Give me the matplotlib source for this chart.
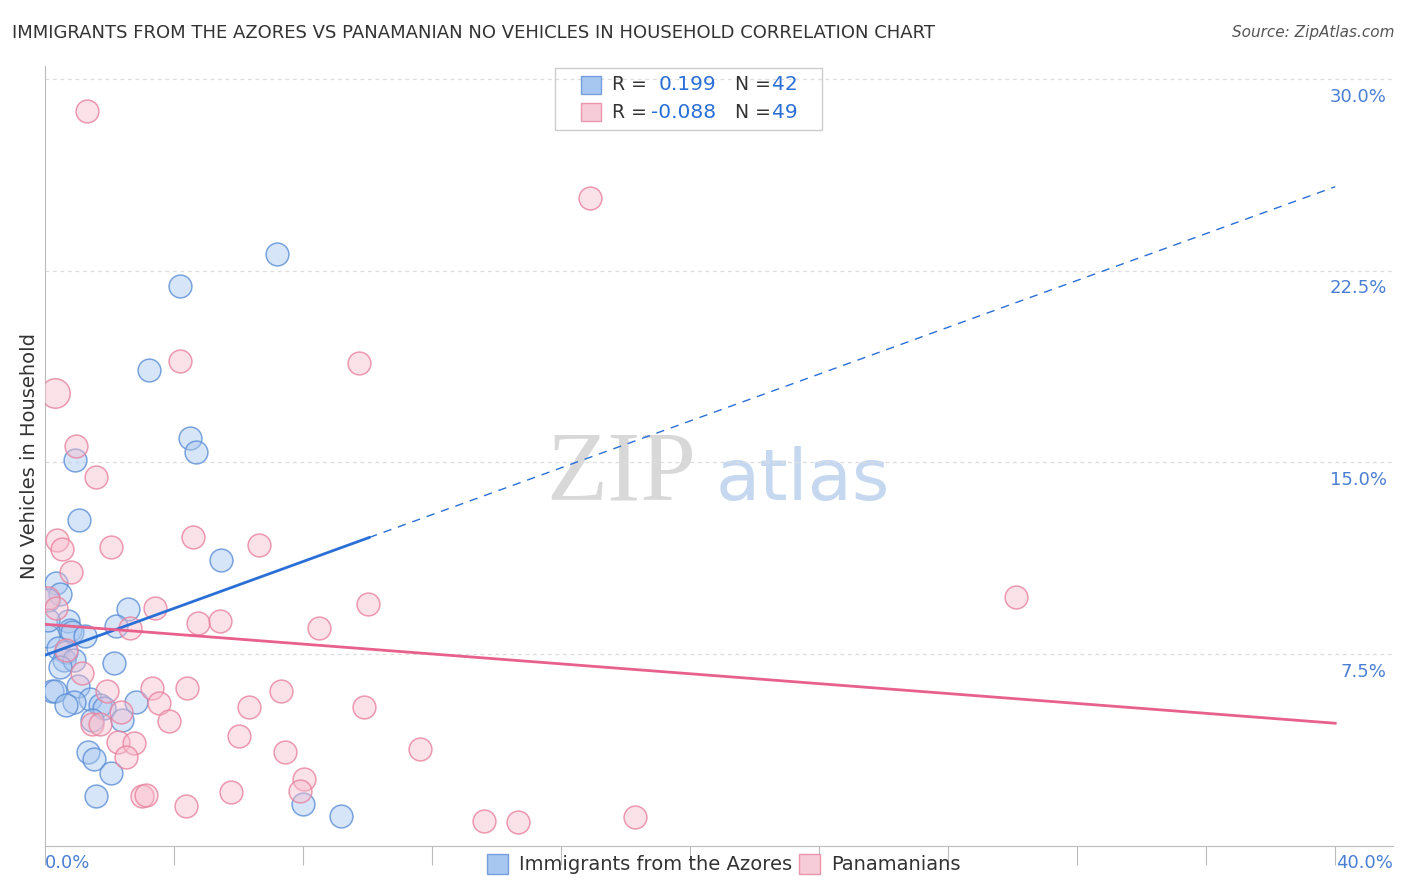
import matplotlib
matplotlib.use("Agg")
import matplotlib.pyplot as plt
import numpy as np

PX0, PXS, PY0, PYS = 45, 32.125, 846, 25.6
blue_px = [(276,253),(180,286),(148,369),(189,438),(195,452),(75,460),(79,520),(220,560),(56,583),(60,594),(48,600),(128,609),(68,621),(70,630),(72,632),(85,636),(116,626),(48,636),(58,648),(66,652),(64,660),(74,660),(60,667),(114,663),(78,686),(52,691),(55,691),(90,699),(74,702),(66,705),(100,705),(104,708),(136,702),(122,720),(92,720),(88,752),(94,759),(111,773),(96,796),(302,804),(340,816),(48,620)]
pink_px = [(87,110),(588,197),(180,361),(358,363),(76,445),(96,477),(57,540),(62,549),(111,547),(192,537),(258,545),(71,572),(48,598),(56,608),(155,608),(367,604),(1012,597),(219,621),(197,623),(130,628),(318,628),(66,650),(82,673),(152,688),(186,688),(107,691),(280,691),(158,703),(248,707),(363,707),(121,712),(168,721),(92,724),(100,724),(238,736),(118,742),(134,743),(126,757),(284,752),(419,749),(303,779),(299,791),(230,792),(142,796),(146,795),(185,806),(482,821),(516,822),(633,817)]
big_pink = (55,393)

blue_x = [round((p[0]-PX0)/PXS,2) for p in blue_px]
blue_y = [round((PY0-p[1])/PYS,2) for p in blue_px]
pink_x = [round((p[0]-PX0)/PXS,2) for p in pink_px]
pink_y = [round((PY0-p[1])/PYS,2) for p in pink_px]

blue_line = (7.46, 25.78, 10.05)   # y at 0, y at 40, solid end x
pink_line = (8.67, 4.80)

fig = plt.figure(figsize=(14.06, 8.92), dpi=100)
ax = fig.add_axes([45/1406, 1-846/892, (1330-45)/1406 + 0.045, (846-66)/892])
ax.set_xlim(0, 41.8)
ax.set_ylim(0, 30.5)

bc, bec = (0.66, 0.78, 0.94, 0.45), (0.36, 0.56, 0.84, 0.8)
pc, pec = (0.97, 0.74, 0.80, 0.45), (0.91, 0.51, 0.62, 0.8)
ax.scatter(blue_x, blue_y, s=270, facecolor=bc, edgecolor=bec, lw=1.1, zorder=3)
ax.scatter(pink_x, pink_y, s=270, facecolor=pc, edgecolor=pec, lw=1.1, zorder=3)
ax.scatter([(big_pink[0]-PX0)/PXS], [(PY0-big_pink[1])/PYS], s=450, facecolor=pc, edgecolor=pec, lw=1.1, zorder=3)

b0, b40, bend = blue_line
f = lambda x: b0 + (b40-b0)*x/40
ax.plot([0, bend], [f(0), f(bend)], color="#2a6fd6", lw=2, zorder=4)
ax.plot([bend, 40], [f(bend), f(40)], color="#2a6fd6", lw=1, ls=(0,(6,5)), zorder=4)
ax.plot([0, 40], [pink_line[0], pink_line[1]], color="#e8608c", lw=2, zorder=4)

for yv in [7.5, 15, 22.5, 30]:
    ax.axhline(yv, color="#dddddd", ls=(0,(3,3)), lw=0.9, zorder=1)
    ax.text(41.6, yv-0.7, f"{yv:.1f}%", color="#4a7fd4", fontsize=13, ha="right", va="center")

for s in ["top", "right"]:
    ax.spines[s].set_visible(False)
ax.spines["left"].set_color("#bbbbbb")
ax.spines["bottom"].set_color("#bbbbbb")
ax.set_yticks([])
ax.set_xticks(np.arange(0, 41, 4))
ax.set_xticklabels([])
ax.tick_params(axis="x", length=14, color="#bbbbbb")
ax.set_ylabel("No Vehicles in Household", fontsize=14, color="#333333")
fig.text(45/1406, 1-863/892, "0.0%", color="#4a7fd4", fontsize=13, ha="left", va="center")
fig.text(1393/1406, 1-863/892, "40.0%", color="#4a7fd4", fontsize=13, ha="right", va="center")

fig.text(12/1406, 1-33/892, "IMMIGRANTS FROM THE AZORES VS PANAMANIAN NO VEHICLES IN HOUSEHOLD CORRELATION CHART", fontsize=13, color="#333333", va="center")
fig.text(1394/1406, 1-33/892, "Source: ZipAtlas.com", fontsize=11, color="#555555", ha="right", va="center", style="italic")

ax.text(20.2, 14.5, "ZIP", fontsize=72, color="#d8d8d8", ha="right", va="center", family="Liberation Serif", zorder=0)
ax.text(20.8, 14.3, "atlas", fontsize=52, color="#c5d8f0", ha="left", va="center", zorder=0)

# top legend
lg = fig.add_axes([554/1406, 1-131/892, 269/1406, 64/892])
lg.set_xlim(0, 269); lg.set_ylim(64, 0); lg.axis("off")
lg.add_patch(plt.Rectangle((1, 1), 267, 62, fill=False, ec="#cccccc", lw=1, clip_on=False))
for i, (fc, ec, r, n) in enumerate([((0.66,0.78,0.94), bec, "0.199", "42"), ((0.97,0.80,0.85), pec, "-0.088", "49")]):
    yy = 18 + i*27
    lg.add_patch(plt.Rectangle((27, yy-9), 20, 18, fc=fc, ec=ec, lw=1))
    lg.text(58, yy, "R =", fontsize=13.5, color="#333333", va="center")
    lg.text(162, yy, r, fontsize=14.5, color="#2a6fd6", va="center", ha="right")
    lg.text(181, yy, "N =", fontsize=13.5, color="#333333", va="center")
    lg.text(218, yy, n, fontsize=14.5, color="#2a6fd6", va="center")

# bottom legend
for x0, fc, ec, lab in [(487, (0.66,0.78,0.94), bec, "Immigrants from the Azores"), (799, (0.97,0.80,0.85), pec, "Panamanians")]:
    fig.patches.append(plt.Rectangle((x0/1406, 1-874/892), 21/1406, 20/892, fc=fc, ec=ec, lw=1, transform=fig.transFigure))
    fig.text((x0+32)/1406, 1-864/892, lab, fontsize=14, color="#333333", va="center")

fig.savefig("out.png", dpi=100)
